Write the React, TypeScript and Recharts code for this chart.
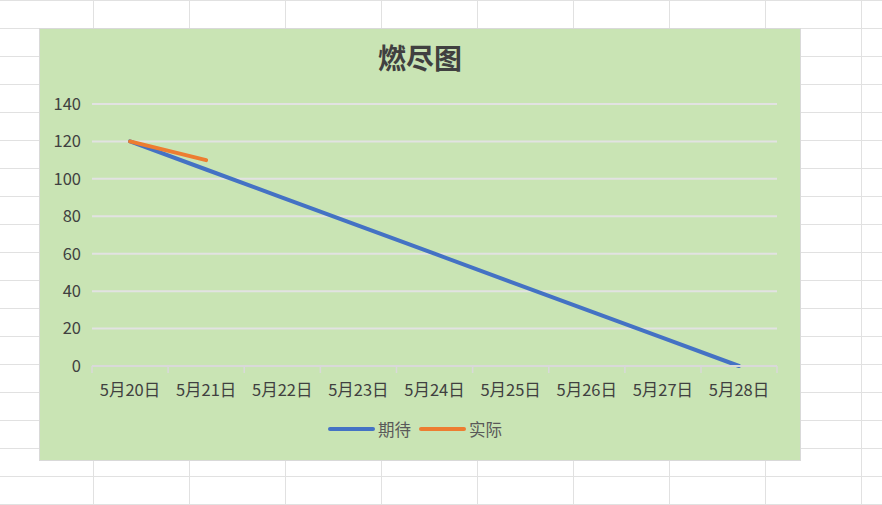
import {
  CartesianGrid,
  Legend,
  Line,
  LineChart,
  XAxis,
  YAxis,
} from 'recharts'

// Burndown data.
const dates = ['5月20日', '5月21日', '5月22日', '5月23日', '5月24日', '5月25日', '5月26日', '5月27日', '5月28日']
const expected = [120, 105, 90, 75, 60, 45, 30, 15, 0]
const actual: (number | null)[] = [120, 110, null, null, null, null, null, null, null]
const yTicks = [0, 20, 40, 60, 80, 100, 120, 140]

const seriesOrder = ['expected', 'actual']
const seriesNames = { expected: '期待', actual: '实际' }

const BLUE = '#4472C4'
const ORANGE = '#ED7D31'
const GREEN = '#C9E4B4'
const GRID = '#e2e2e2'
const AXIS = '#d9d9d9'
const TEXT = '#404040'
const FONT = '"Noto Sans CJK SC", "Noto Sans", sans-serif'

const CHART_W = 760
const CHART_H = 431
const HALF_BAND = 38

const data = dates.map((d, i) => ({
  date: d,
  expected: expected[i],
  actual: actual[i],
}))

function DateTick(props: any) {
  const { x, y, payload, index, visibleTicksCount } = props
  const axisY = y - 8
  return (
    <g>
      <line x1={x - HALF_BAND} x2={x - HALF_BAND} y1={axisY} y2={axisY + 7} stroke={AXIS} strokeWidth={1.5} />
      {index === visibleTicksCount - 1 && (
        <line x1={x + HALF_BAND} x2={x + HALF_BAND} y1={axisY} y2={axisY + 7} stroke={AXIS} strokeWidth={1.5} />
      )}
      <text x={x} y={axisY + 23} textAnchor="middle" dominantBaseline="central" fill={TEXT} fontSize={16.5} fontFamily={FONT}>
        {payload.value}
      </text>
    </g>
  )
}

function LegendContent({ payload }: any) {
  const items = [...(payload || [])].sort(
    (a: any, b: any) => seriesOrder.indexOf(a.dataKey) - seriesOrder.indexOf(b.dataKey),
  )
  return (
    <div style={{ display: 'flex', justifyContent: 'center', alignItems: 'center', height: 24, paddingRight: 10 }}>
      {items.map((p: any, i: number) => (
        <div key={p.value} style={{ display: 'flex', alignItems: 'center', marginLeft: i === 0 ? 0 : 8 }}>
          <svg width={47} height={8} style={{ marginRight: 3 }}>
            <line x1={2} x2={45} y1={4} y2={4} stroke={p.color} strokeWidth={4} strokeLinecap="round" />
          </svg>
          <span style={{ fontSize: 16.5, color: '#595959', fontFamily: FONT }}>{p.value}</span>
        </div>
      ))}
    </div>
  )
}

export default function App() {
  return (
    <div
      style={{
        position: 'absolute',
        left: 0,
        top: 0,
        width: 882,
        height: 505,
        background: '#fff',
        backgroundImage:
          'linear-gradient(to right, #e1e1e1 1px, transparent 1px), linear-gradient(to bottom, #e1e1e1 1px, transparent 1px)',
        backgroundSize: '96px 100%, 100% 28px',
        backgroundPosition: '93px 0, 0 0',
        overflow: 'hidden',
      }}
    >
      <div
        style={{
          position: 'absolute',
          left: 39,
          top: 28,
          width: CHART_W + 2,
          height: CHART_H + 2,
          boxSizing: 'border-box',
          border: '1px solid #d9d9d9',
          background: GREEN,
        }}
      >
        <div
          style={{
            position: 'absolute',
            left: 0,
            top: 8,
            width: CHART_W,
            textAlign: 'center',
            fontFamily: FONT,
            fontWeight: 'bold',
            fontSize: 28,
            color: TEXT,
          }}
        >
          燃尽图
        </div>
        <LineChart
          width={CHART_W}
          height={CHART_H}
          data={data}
          margin={{ top: 75, right: 23, bottom: 19, left: 0 }}
        >
          <CartesianGrid vertical={false} stroke={GRID} strokeWidth={2} />
          <XAxis
            dataKey="date"
            padding={{ left: HALF_BAND, right: HALF_BAND }}
            axisLine={{ stroke: AXIS, strokeWidth: 2 }}
            tickLine={false}
            height={51}
            interval={0}
            tick={<DateTick />}
          />
          <YAxis
            domain={[0, 140]}
            ticks={yTicks}
            width={52}
            axisLine={false}
            tickLine={false}
            tickSize={0}
            tickMargin={11}
            tick={{ fill: TEXT, fontSize: 16.5, fontFamily: FONT }}
          />
          <Legend
            verticalAlign="bottom"
            wrapperStyle={{ left: 0, width: CHART_W }}
            content={<LegendContent />}
          />
          <Line
            type="linear"
            dataKey="expected"
            name={seriesNames.expected}
            stroke={BLUE}
            strokeWidth={4}
            strokeLinecap="round"
            dot={false}
            activeDot={false}
            isAnimationActive={false}
          />
          <Line
            type="linear"
            dataKey="actual"
            name={seriesNames.actual}
            stroke={ORANGE}
            strokeWidth={4}
            strokeLinecap="round"
            dot={false}
            activeDot={false}
            isAnimationActive={false}
          />
        </LineChart>
      </div>
    </div>
  )
}
